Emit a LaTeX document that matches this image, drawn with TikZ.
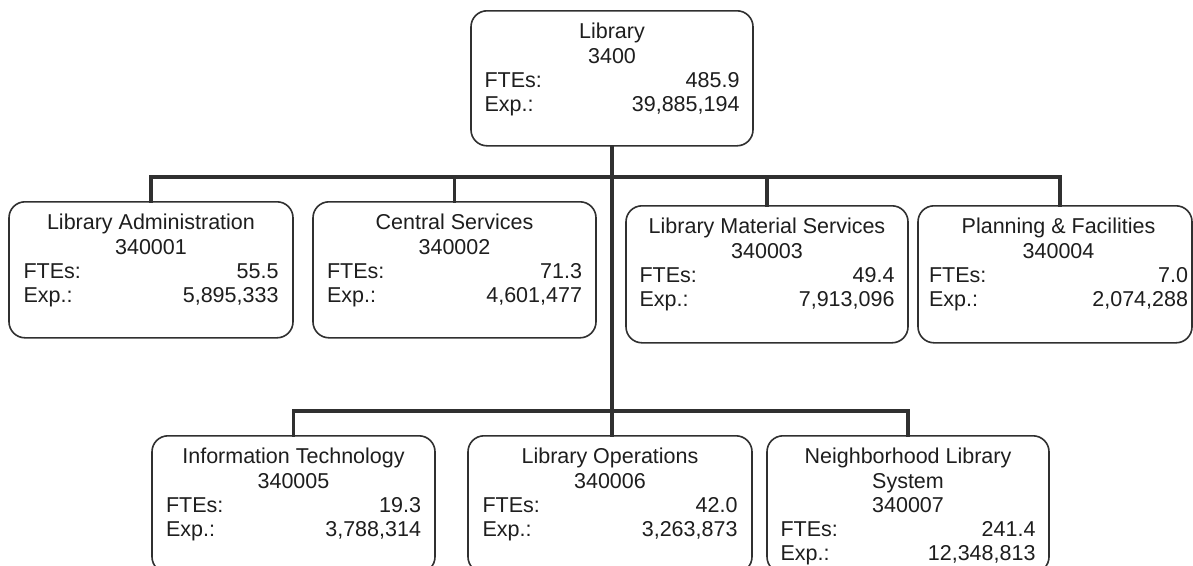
\documentclass[tikz,border=0pt]{standalone}
\usepackage{fontspec}
\setmainfont{Liberation Sans}
\definecolor{linecol}{HTML}{303030}
\definecolor{txtcol}{HTML}{1E1E1E}
\newlength\unitrowwd
\setlength\unitrowwd{255pt}
\newcommand\unitrow[2]{\makebox[\unitrowwd]{#1\hfill#2}}
\newcommand\orgunit[9]{%
  \node[unitbox, minimum width=#4, minimum height=#5, anchor=north] (#1) at (#2,#3) {};
  \node[unittext, anchor=north] (#1t) at ([yshift=-13pt]#1.north)
     {#6\\#7\\\unitrow{FTEs:}{#8}\\\unitrow{Exp.:}{#9}};
}
\begin{document}
\begin{tikzpicture}[x=1pt,y=-1pt,
  unitbox/.style={draw=linecol, line width=1.6pt, rounded corners=16pt, fill=white, inner sep=0pt},
  unittext/.style={text=txtcol, align=center, inner sep=0pt, font=\fontsize{21.5}{24.3}\selectfont},
  conn/.style={draw=linecol, line width=3.6pt, line cap=rect}]
\clip (0,0) rectangle (1193,565);
\fill[white] (0,0) rectangle (1193,565);
% connector levels
\coordinate (ubar) at (0,177);
\coordinate (bbar) at (0,411);
% boxes
\orgunit{lib}{612}{10}{282pt}{135pt}{Library}{3400}{485.9}{39,885,194}
\orgunit{adm}{151}{201}{284pt}{136pt}{Library Administration}{340001}{55.5}{5,895,333}
\orgunit{cs}{454.5}{201}{283pt}{136pt}{Central Services}{340002}{71.3}{4,601,477}
\orgunit{lms}{767}{205}{282pt}{137pt}{Library Material Services}{340003}{49.4}{7,913,096}
\node[unitbox, minimum width=274pt, minimum height=137pt, anchor=north] (pf) at (1055,205) {};
\setlength\unitrowwd{259pt}
\node[unittext, anchor=north] (pft) at ([xshift=3.5pt,yshift=-13pt]pf.north)
   {Planning \& Facilities\\340004\\\unitrow{FTEs:}{7.0}\\\unitrow{Exp.:}{2,074,288}};
\setlength\unitrowwd{255pt}
\orgunit{it}{293.5}{435}{283pt}{137pt}{Information Technology}{340005}{19.3}{3,788,314}
\orgunit{ops}{610}{435}{284pt}{137pt}{Library Operations}{340006}{42.0}{3,263,873}
\orgunit{nls}{908}{435}{282pt}{137pt}{Neighborhood Library\\System}{340007}{241.4}{12,348,813}
% connectors
\draw[conn] (lib.south) -- (lib.south |- ops.north);
\draw[conn] (adm.north) -- (adm.north |- ubar) -- ([xshift=5pt]pf.north |- ubar) -- ([xshift=5pt]pf.north);
\draw[conn] (cs.north) -- (cs.north |- ubar);
\draw[conn] (lms.north) -- (lms.north |- ubar);
\draw[conn] (it.north) -- (it.north |- bbar) -- (nls.north |- bbar) -- (nls.north);
\end{tikzpicture}
\end{document}
